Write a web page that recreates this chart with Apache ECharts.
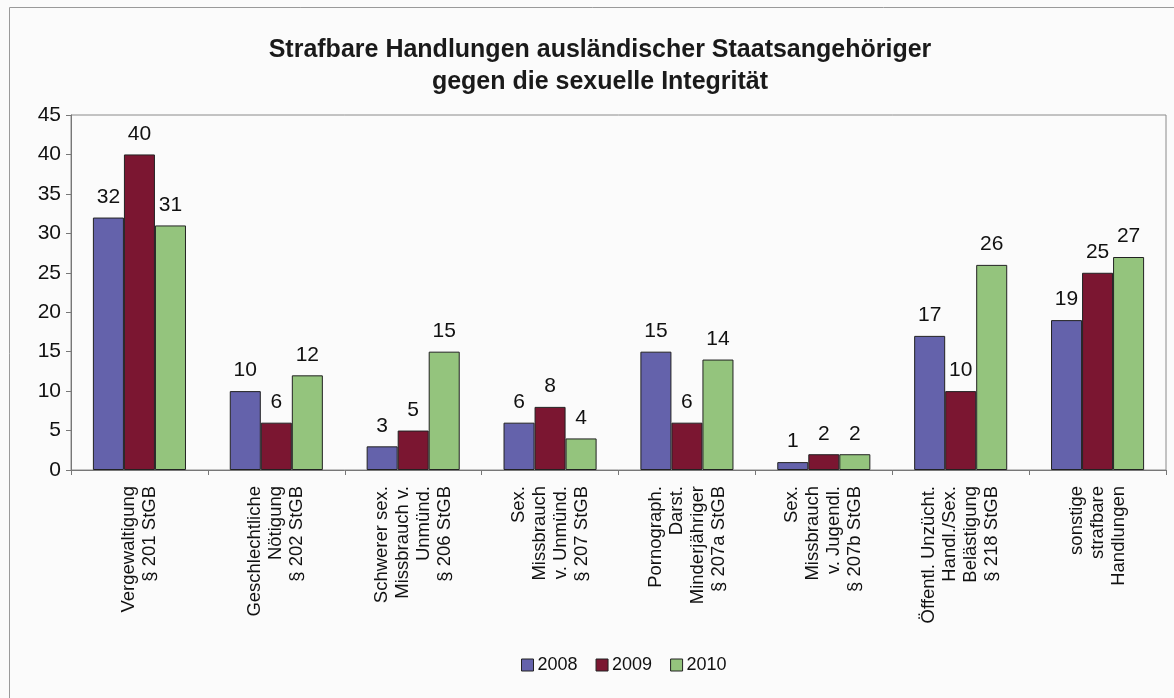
<!DOCTYPE html>
<html>
<head>
<meta charset="utf-8">
<script src="https://cdn.jsdelivr.net/npm/echarts@6/dist/echarts.min.js"></script>
<style>
html,body{margin:0;padding:0;background:#fbfbfb;}
#chart{width:1174px;height:698px;}
</style>
</head>
<body>
<div id="chart"></div>
<script>
const categories = [
  "Vergewaltigung\n§ 201 StGB",
  "Geschlechtliche\nNötigung\n§ 202 StGB",
  "Schwerer sex.\nMissbrauch v.\nUnmünd.\n§ 206 StGB",
  "Sex.\nMissbrauch\nv. Unmünd.\n§ 207 StGB",
  "Pornograph.\nDarst.\nMinderjähriger\n§ 207a StGB",
  "Sex.\nMissbrauch\nv. Jugendl.\n§ 207b StGB",
  "Öffentl. Unzücht.\nHandl./Sex.\nBelästigung\n§ 218 StGB",
  "sonstige\nstrafbare\nHandlungen"
];
const years = ["2008", "2009", "2010"];
const values2008 = [32, 10, 3, 6, 15, 1, 17, 19];
const values2009 = [40, 6, 5, 8, 6, 2, 10, 25];
const values2010 = [31, 12, 15, 4, 14, 2, 26, 27];
const yTicks = [0, 5, 10, 15, 20, 25, 30, 35, 40, 45];
const titleText = "Strafbare Handlungen ausländischer Staatsangehöriger\ngegen die sexuelle Integrität";

const colors = ["#6462ab", "#7b1631", "#94c47d"];
const FONT = "'Liberation Sans', Arial, sans-serif";
const CAT_FS = 18.5;

// centred multi-line category labels, block starting just below the axis
const categoryItems = categories.map(function (c) {
  return { value: c, textStyle: { padding: [0, 1, 0, 0] } };
});

const chart = echarts.init(document.getElementById('chart'));
const seriesData = [values2008, values2009, values2010];

chart.setOption({
  backgroundColor: '#fbfbfb',
  animation: false,
  color: colors,
  title: {
    text: titleText,
    left: 595,
    textAlign: 'center',
    top: 29,
    textStyle: {
      fontFamily: FONT, fontWeight: 'bold', fontSize: 25, color: '#1a1a1a', lineHeight: 32
    }
  },
  graphic: [{
    type: 'rect',
    shape: { x: 9.5, y: 7.5, width: 1200, height: 720 },
    style: { fill: 'none', stroke: '#9a9a9a', lineWidth: 1 },
    silent: true, z: -1
  }],
  legend: {
    data: years,
    bottom: 19,
    left: 516,
    itemWidth: 12,
    itemHeight: 12,
    itemGap: 18,
    icon: 'rect',
    textStyle: { fontFamily: FONT, fontSize: 18, color: '#111', padding: [0, 0, 0, -1] },
    itemStyle: { borderColor: '#222', borderWidth: 1 }
  },
  grid: {
    left: 71, right: 8, top: 115, bottom: 228,
    outerBoundsMode: 'none',
    containLabel: false,
    show: true, borderColor: '#8a8a8a', borderWidth: 1, backgroundColor: 'transparent'
  },
  xAxis: {
    type: 'category',
    data: categoryItems,
    axisLine: { lineStyle: { color: '#777', width: 1 } },
    axisTick: { show: true, length: 5, lineStyle: { color: '#777' } },
    axisLabel: {
      rotate: 90,
      interval: 0,
      margin: 15,
      align: 'center',
      verticalAlign: 'middle',
      fontFamily: FONT,
      fontSize: CAT_FS,
      color: '#111',
      lineHeight: 21
    }
  },
  yAxis: {
    type: 'value',
    min: 0, max: 45, interval: 5,
    axisLine: { show: true, lineStyle: { color: '#777', width: 1 } },
    axisTick: { show: true, length: 5, lineStyle: { color: '#777' } },
    splitLine: { show: false },
    axisLabel: {
      margin: 10,
      fontFamily: FONT, fontSize: 21, color: '#111',
      formatter: function (v) { return yTicks.indexOf(v) >= 0 ? String(v) : ''; }
    }
  },
  series: years.map(function (y, i) {
    return {
      name: y,
      type: 'bar',
      data: seriesData[i],
      barGap: '0%',
      barCategoryGap: '32%',
      itemStyle: { color: colors[i], borderColor: '#222', borderWidth: 1 },
      label: {
        show: true, position: 'top', distance: 10,
        fontFamily: FONT, fontSize: 21, color: '#111'
      }
    };
  })
});
</script>
</body>
</html>
